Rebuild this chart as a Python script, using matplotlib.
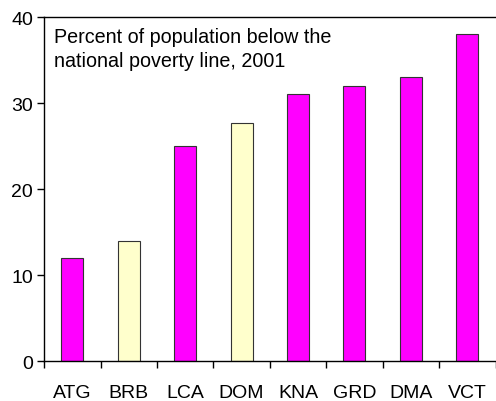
import numpy as np
import matplotlib.pyplot as plt

plt.rcParams['font.family'] = ['Liberation Sans', 'DejaVu Sans']

countries = ["ATG", "BRB", "LCA", "DOM", "KNA", "GRD", "DMA", "VCT"]
poverty = [12, 14, 25, 27.7, 31, 32, 33, 38]
highlight = [False, True, False, True, False, False, False, False]

fig = plt.figure(figsize=(4.96, 4.02), dpi=100)
ax = fig.add_axes([0.089, 0.0995, 0.91, 0.8555])

x = np.arange(len(countries))
colors = ["#FFFFCC" if h else "#FF00FF" for h in highlight]
ax.bar(x, poverty, width=0.39, color=colors, edgecolor="#333333", linewidth=0.8)

ax.set_xlim(-0.5, len(countries) - 0.5)
ax.set_ylim(0, 40)
ax.set_yticks([0, 10, 20, 30, 40])
ax.tick_params(axis='y', direction='out', length=5, width=1, labelsize=14, pad=3)

# category boundaries get the tick marks, centers get the labels
ax.set_xticks(np.arange(-0.5, len(countries) + 0.5, 1))
ax.set_xticklabels([])
ax.set_xticks(x, minor=True)
ax.set_xticklabels(countries, minor=True, fontsize=14)
ax.tick_params(axis='x', which='major', direction='out', length=5, width=1)
ax.tick_params(axis='x', which='minor', length=0, pad=16.5)

ax.spines['right'].set_visible(False)
for s in ['left', 'bottom', 'top']:
    ax.spines[s].set_linewidth(1)

ax.text(0.021, 0.972, "Percent of population below the\nnational poverty line, 2001",
        transform=ax.transAxes, ha='left', va='top', fontsize=14.2, linespacing=1.38)

fig.savefig("out.png", dpi=100)
